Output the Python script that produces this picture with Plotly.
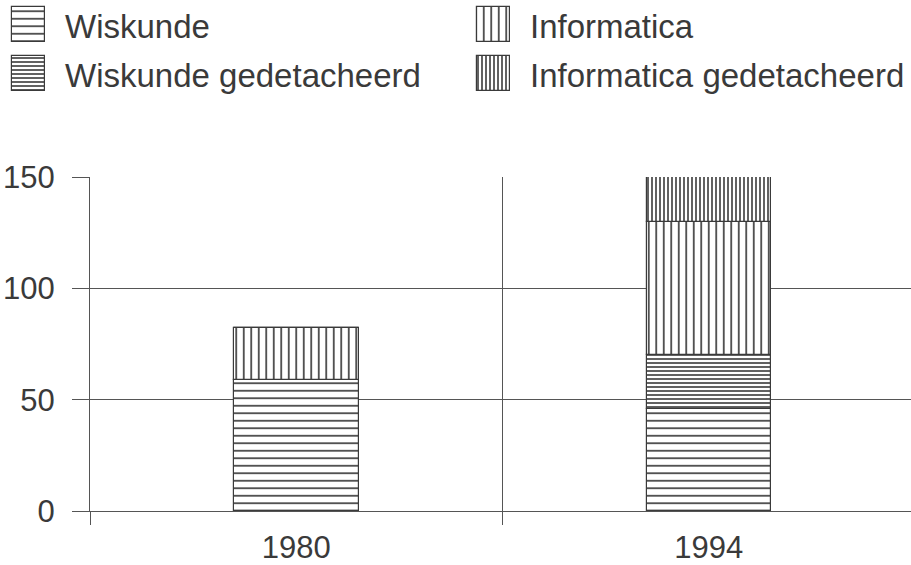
import numpy as np
import plotly.graph_objects as go

years = ["1980", "1994"]
wiskunde = [59, 46]
wiskunde_ged = [0, 24]
informatica = [23, 60]
informatica_ged = [0, 20]
y_ticks = [0, 50, 100, 150]

INK = "#3a3a3a"
GRID = "#555555"
FONT = "Liberation Sans, Arial, sans-serif"
W, H = 911, 565

# name, values, pattern shape, pattern size, solidity, legend column, legend row
series = [
    ("Wiskunde", wiskunde, "-", 7.5, 0.22, 0, 0),
    ("Wiskunde gedetacheerd", wiskunde_ged, "-", 4.0, 0.4, 0, 1),
    ("Informatica", informatica, "|", 7.5, 0.22, 1, 0),
    ("Informatica gedetacheerd", informatica_ged, "|", 4.0, 0.4, 1, 1),
]

# legend layout (pixels)
leg_col_left = [12, 477]
leg_text_left = [63, 528]
leg_row_top = [7, 56]
leg_text_mid = [27, 76]
sw_w, sw_h = 33, 35


def pattern(shape, size, sol):
    return dict(shape=shape, size=size, solidity=sol,
                fgcolor=INK, bgcolor="white", fillmode="replace")


fig = go.Figure()
base = np.zeros(len(years))
for name, vals, shape, size, sol, col, row in series:
    vals = np.array(vals, dtype=float)
    fig.add_trace(go.Bar(
        x=years, y=vals, base=base.copy(), name=name, width=0.302,
        offsetgroup="a", showlegend=False,
        marker=dict(color="white", line=dict(color=INK, width=1.2),
                    pattern=pattern(shape, size, sol)),
        xaxis="x", yaxis="y",
    ))
    base = base + vals

# legend swatches, drawn as bars in a pixel-unit helper subplot
for name, vals, shape, size, sol, col, row in series:
    fig.add_trace(go.Bar(
        x=[leg_col_left[col] + sw_w / 2], y=[sw_h], base=[leg_row_top[row]],
        width=sw_w, offsetgroup="a", showlegend=False, hoverinfo="skip",
        marker=dict(color="white", line=dict(color=INK, width=1.2),
                    pattern=pattern(shape, size, sol)),
        xaxis="x2", yaxis="y2",
    ))
    fig.add_annotation(
        x=leg_text_left[col] / W,
        y=1 - leg_text_mid[row] / H,
        xref="paper", yref="paper", xanchor="left", yanchor="middle",
        text=name, showarrow=False,
        font=dict(family=FONT, size=33, color=INK),
    )

fig.update_layout(
    barmode="group",
    width=W, height=H,
    margin=dict(l=0, r=0, t=0, b=0),
    paper_bgcolor="white", plot_bgcolor="white",
    font=dict(family=FONT, size=31, color=INK),
    showlegend=False,
    bargap=0,
    xaxis=dict(
        domain=[90 / W, 1], anchor="y",
        type="category", range=[-0.5, 1.49],
        tickson="boundaries", ticks="outside", ticklen=13, tickcolor=GRID,
        showgrid=True, gridcolor=GRID, gridwidth=1,
        showline=True, linecolor=GRID, linewidth=1,
        ticklabelstandoff=9, automargin=False,
        tickfont=dict(size=31, color=INK),
    ),
    yaxis=dict(
        domain=[54 / H, 1 - 177 / H], anchor="x",
        range=[0, 150], tickvals=y_ticks, ticks="outside", ticklen=17,
        tickcolor=GRID, showgrid=True, gridcolor=GRID, gridwidth=1,
        showline=True, linecolor=GRID, linewidth=1, zeroline=False,
        ticklabelstandoff=11, automargin=False,
        tickfont=dict(size=31, color=INK),
    ),
    xaxis2=dict(domain=[0, 1], range=[0, W], anchor="y2", visible=False,
                fixedrange=True),
    yaxis2=dict(domain=[1 - 110 / H, 1], range=[110, 0], anchor="x2",
                visible=False, fixedrange=True),
)

fig.write_html(
    "out.html",
    config={"displayModeBar": False},
    post_script="document.body.style.margin='0px';"
                "document.body.style.overflow='hidden';",
)
